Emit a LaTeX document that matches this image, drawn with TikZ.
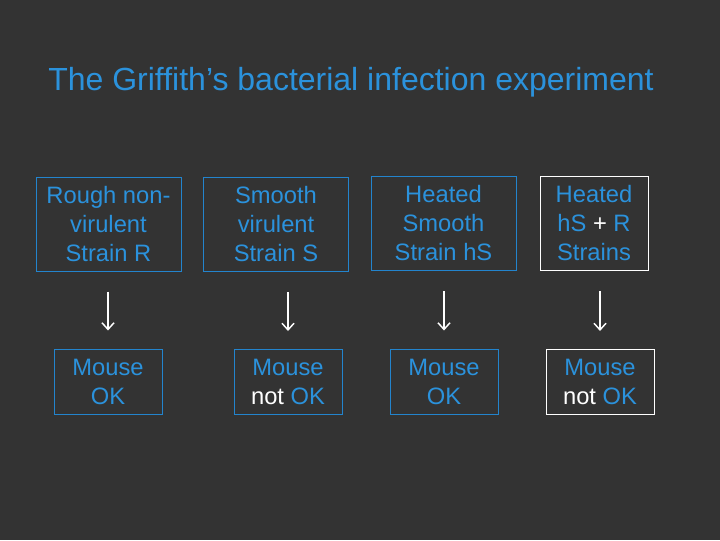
\documentclass[tikz,border=0pt]{standalone}
\usepackage{fontspec}
\setmainfont{Liberation Sans}
\usetikzlibrary{arrows.meta}
\definecolor{slidebg}{RGB}{51,51,51}
\definecolor{textblue}{RGB}{43,146,220}
\definecolor{lineblue}{RGB}{35,132,205}
\tikzset{
  box/.style={draw=lineblue, line width=0.75pt, text=textblue, align=center,
    font=\fontsize{17.8}{21.75}\selectfont, inner sep=0pt},
  strainbox/.style={box, minimum width=108.75pt, minimum height=70.5pt},
  mousebox/.style={box, minimum width=81pt, minimum height=48.75pt},
  arr/.style={white, line width=1.1pt, -{Straight Barb[length=5pt,width=9pt]},
    shorten <=15pt, shorten >=13.5pt}
}
\begin{document}
\begin{tikzpicture}[x=0.75pt, y=-0.75pt]
        \fill [slidebg] (0,0) rectangle (720,540);
        \node [text=textblue, font=\fontsize{24}{28}\selectfont] (title) at (351,82)
            {The Griffith’s bacterial infection experiment};
        % strains
        \node [strainbox] (s1) at (108.5,224) {Rough non-\\virulent\\Strain R};
        \node [strainbox] (s2) at (276,224.5) {Smooth\\virulent\\Strain S};
        \node [strainbox] (s3) at (443.5,223.5) {Heated\\Smooth\\Strain hS};
        \node [strainbox, draw=white, minimum width=81pt] (s4) at (594,223.5)
            {Heated\\hS {\color{white}+} R\\Strains};
        % mice
        \node [mousebox] (m1) at (108,381.5) {Mouse\\OK};
        \node [mousebox] (m2) at (288,382) {Mouse\\{\color{white}not} OK};
        \node [mousebox] (m3) at (444,381.5) {Mouse\\OK};
        \node [mousebox, draw=white] (m4) at (600,382) {Mouse\\{\color{white}not} OK};
        \foreach \i in {1,...,4}
            \draw [arr] (s\i.south -| m\i.north) -- (m\i.north);
    \end{tikzpicture}
\end{document}
